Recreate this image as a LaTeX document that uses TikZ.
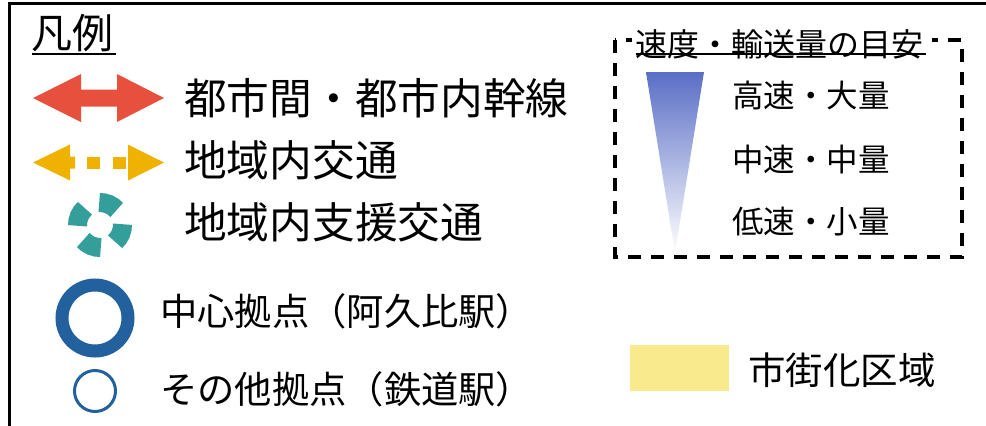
\documentclass[tikz,border=0pt]{standalone}
\usepackage{fontspec}
\setmainfont{Noto Sans CJK JP}
\definecolor{redarrow}{HTML}{E8503E}
\definecolor{orangearrow}{HTML}{EFB200}
\definecolor{tealring}{HTML}{349E9A}
\definecolor{bluering}{HTML}{23619E}
\definecolor{yellowarea}{HTML}{F9EA8E}
\definecolor{gradtop}{HTML}{5A6EC6}
\tikzset{
  lbl/.style={anchor=west, inner sep=0pt, text=black},
  biglbl/.style={lbl, font=\fontsize{42.7}{42.7}\selectfont},
  midlbl/.style={lbl, font=\fontsize{37.3}{37.3}\selectfont},
  smalllbl/.style={lbl, font=\fontsize{31.5}{31.5}\selectfont},
}
\begin{document}
\begin{tikzpicture}[x=1pt,y=-1pt]
\useasboundingbox (0,0) rectangle (986,426);
% outer frame (top and left)
\draw[line width=3pt] (9,426) -- (9,3) -- (986,3);
% legend title
\node[lbl, font=\fontsize{41}{41}\selectfont] (title) at (31,33) {凡例};
\draw[line width=2.5pt] (32,54) -- (116,54);
% red double arrow
\fill[redarrow] (33,98) -- (81,74) -- (81,89.5) -- (117,89.5) -- (117,74) -- (164,98)
  -- (117,122) -- (117,106.5) -- (81,106.5) -- (81,122) -- cycle;
\node[biglbl] (l1) at (184,98) {都市間・都市内幹線};
% orange dashed arrow
\fill[orangearrow] (33,162.5) -- (70,144.5) -- (70,156.5) -- (75,156.5) -- (75,168.5)
  -- (70,168.5) -- (70,180.5) -- cycle;
\fill[orangearrow] (87,156.5) rectangle (100,168.5);
\fill[orangearrow] (113,156.5) rectangle (126,168.5);
\fill[orangearrow] (164,162.5) -- (128,144.5) -- (128,180.5) -- cycle;
\node[biglbl] (l2) at (184,160) {地域内交通};
% teal dashed ring
\foreach \c in {67,157,247,337}{
  \draw[tealring, line width=19pt] ({100+22.5*cos(\c-25)},{225-22.5*sin(\c-25)})
    arc[start angle=-(\c-25), end angle=-(\c+25), radius=22.5];
}
\node[biglbl] (l3) at (184,222) {地域内支援交通};
% circles
\draw[bluering, line width=13pt] (95,318) circle[radius=33];
\node[midlbl] (l4) at (160,311) {中心拠点（阿久比駅）};
\draw[bluering, line width=3pt] (95,391) circle[radius=20.5];
\node[midlbl] (l5) at (160,389) {その他拠点（鉄道駅）};
% speed box
\draw[line width=3.2pt, dash pattern=on 13pt off 10pt] (615,40) rectangle (962,257);
\fill[white] (632,30) rectangle (932,58);
\node[lbl, font=\fontsize{32}{32}\selectfont] (sp) at (635,44) {速度・輸送量の目安};
\draw[line width=2pt] (636,54) -- (926,54);
\shade[top color=gradtop, bottom color=white] (646,72) -- (704,72) -- (675,253) -- cycle;
\node[smalllbl] (s1) at (732,96) {高速・大量};
\node[smalllbl] (s2) at (732,160) {中速・中量};
\node[smalllbl] (s3) at (732,222) {低速・小量};
% urban area
\fill[yellowarea] (630,345) rectangle (729,391);
\node[lbl, font=\fontsize{37.5}{37.5}\selectfont] (l6) at (748,370) {市街化区域};
\end{tikzpicture}
\end{document}
